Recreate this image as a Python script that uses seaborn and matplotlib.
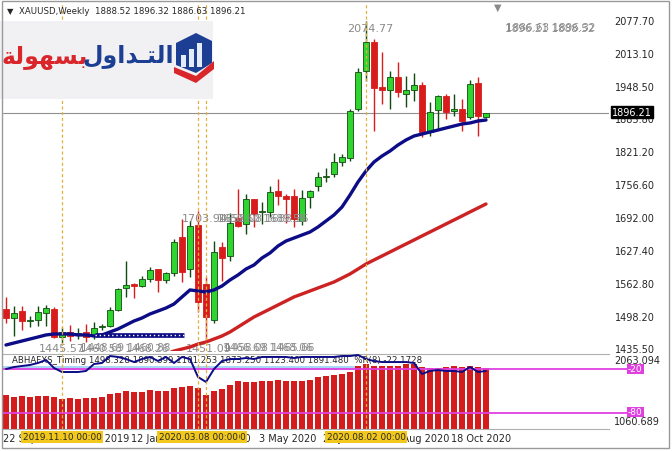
import matplotlib
matplotlib.use("Agg")
import matplotlib.pyplot as plt
import matplotlib.transforms as mtransforms
from matplotlib.patches import Rectangle, Polygon
import seaborn as sns
import numpy as np
import pandas as pd

# XAUUSD weekly candles (first week 22 Sep 2019)
opens = [1512, 1494, 1508, 1488, 1490, 1504, 1512, 1457, 1467, 1462, 1466, 1460, 1476, 1478, 1510,
         1553, 1561, 1557, 1571, 1591, 1568, 1583, 1653, 1590, 1676, 1560, 1490, 1633, 1616, 1690,
         1678, 1728, 1701, 1702, 1743, 1733, 1733, 1685, 1732, 1752, 1770, 1776, 1800, 1808, 1903,
         1977, 2035, 1947, 1940, 1966, 1932, 1940, 1950, 1858, 1901, 1929, 1899, 1903, 1888, 1954, 1888.52]
highs = [1535, 1518, 1518, 1498, 1518, 1520, 1516, 1477, 1480, 1475, 1483, 1486, 1483, 1516, 1553,
         1606, 1563, 1576, 1594, 1591, 1585, 1649, 1689, 1684, 1703.94, 1575, 1645, 1643, 1700, 1747,
         1738, 1728, 1722, 1752, 1766, 1737, 1747, 1745, 1745, 1780, 1788, 1818, 1815, 1904, 1983,
         2074.77, 2040, 2016, 1978, 1996, 1968, 1973, 1956, 1918, 1930, 1933, 1933, 1923, 1961, 1966, 1896.32]
lows = [1484, 1459, 1471, 1477, 1479, 1479, 1455, 1445.57, 1450, 1454, 1448, 1454, 1470, 1476, 1508,
        1535, 1534, 1555, 1565, 1545, 1562, 1577, 1565, 1575, 1506, 1451.09, 1484, 1566, 1606, 1672,
        1659, 1672, 1678, 1692, 1715, 1680, 1672, 1676, 1709, 1743, 1760, 1770, 1792, 1802, 1900,
        1958, 1861, 1913, 1904, 1927, 1907, 1919, 1848, 1851, 1864, 1884, 1890, 1861, 1884, 1850, 1886.63]
closes = [1494, 1504, 1488, 1491, 1506, 1514, 1457, 1467, 1460, 1465, 1458, 1475, 1478, 1510, 1552,
          1559, 1557, 1571, 1588, 1568, 1582, 1643, 1585, 1674, 1525, 1497, 1623, 1612, 1681, 1675,
          1728, 1698, 1702, 1741, 1733, 1727, 1688, 1730, 1743, 1770, 1772, 1800, 1809, 1900, 1975,
          2035, 1944, 1940, 1966, 1937, 1941, 1950, 1858, 1898, 1929, 1898, 1903, 1880, 1952, 1889, 1896.21]

# navy moving average (all weeks) and red moving average (from week 21 on)
ma_fast = [1441.5, 1445.4, 1449.3, 1453.2, 1457.1, 1461.1, 1463.0, 1463.0, 1463.0, 1461.1, 1461.1,
           1459.1, 1461.1, 1466.9, 1472.8, 1480.6, 1488.4, 1494.3, 1502.2, 1508.0, 1513.9, 1521.7,
           1535.5, 1549.2, 1547.2, 1545.2, 1549.2, 1557.0, 1568.7, 1578.5, 1590.2, 1598.1, 1611.8,
           1621.6, 1635.3, 1645.0, 1650.9, 1656.8, 1662.7, 1672.5, 1684.2, 1696.0, 1711.6, 1735.1,
           1760.6, 1782.1, 1799.7, 1811.4, 1821.2, 1833.0, 1842.8, 1850.6, 1854.5, 1858.4, 1862.3,
           1866.3, 1870.2, 1874.1, 1876.1, 1880.0, 1881.9]
ma_slow = [1423.9, 1429.7, 1433.6, 1437.5, 1443.4, 1447.3, 1453.2, 1459.1, 1466.9, 1476.7, 1486.5,
           1496.3, 1504.1, 1511.9, 1519.8, 1527.6, 1535.5, 1541.3, 1547.2, 1553.1, 1558.9, 1564.8,
           1572.6, 1580.5, 1590.2, 1600.0, 1607.9, 1615.7, 1623.5, 1631.4, 1639.2, 1647.0, 1654.9,
           1662.7, 1670.5, 1678.4, 1686.2, 1694.0, 1701.9, 1709.7, 1717.5]
ma_slow_start = 20
support_level = 1461

# ABHAFXS_Timing indicator (%R scale)
timing_bars = [-55.5, -58.2, -56.8, -58.2, -56.8, -56.8, -58.2, -60.9, -59.5, -60.9, -59.5, -59.5,
               -58.2, -54.1, -52.7, -50.0, -51.4, -51.4, -48.6, -50.0, -50.0, -45.9, -44.5, -43.2,
               -45.9, -55.5, -50.0, -47.3, -41.8, -36.4, -37.7, -37.7, -36.4, -36.4, -35.0, -36.4,
               -36.4, -36.4, -35.0, -30.9, -29.5, -28.2, -26.8, -24.1, -15.9, -13.2, -15.9, -15.9,
               -15.9, -15.9, -13.2, -13.2, -17.3, -18.6, -18.6, -17.3, -15.9, -17.3, -15.9, -17.3, -18.6]
timing_line = [-20.0, -17.3, -15.9, -14.5, -11.8, -7.7, -18.6, -24.1, -24.1, -24.1, -22.7, -13.2,
               -11.8, -2.3, -3.6, -6.4, -10.5, -6.4, -3.6, -9.1, -3.6, -11.8, -3.6, -6.4, -30.9,
               -37.7, -20.0, -9.1, -6.4, -6.4, -5.0, -6.4, -3.6, -3.6, -3.6, -3.6, -5.0, -3.6, -3.6,
               -3.6, -3.6, -3.6, -2.3, -2.3, -0.9, -6.4, -9.1, -10.5, -10.5, -10.5, -10.5, -11.8,
               -26.8, -22.7, -21.4, -22.7, -22.7, -24.1, -17.3, -24.1, -22.7]
levels = [-20, -80]

price_ticks = [2077.70, 2013.10, 1948.50, 1885.80, 1821.20, 1756.60, 1692.00, 1627.40, 1562.80,
               1498.20, 1435.50]
tick_dates = ["2019-09-22", "2019-11-17", "2020-01-12", "2020-03-08", "2020-05-03", "2020-06-28",
              "2020-08-23", "2020-10-18"]
marker_dates = ["2019-11-10", "2020-03-08", "2020-03-15", "2020-08-02"]

sns.set_style("white")
plt.rcParams["font.family"] = ["DejaVu Sans"]

W, H = 672, 452
def fx(px):
    return px / W
def fy(py):
    return 1 - py / H

weeks = pd.date_range("2019-09-22", periods=len(closes), freq="7D")
idx = np.arange(len(closes))
def x_of(d):
    return weeks.get_loc(pd.Timestamp(d))

fig = plt.figure(figsize=(W / 100, H / 100), dpi=100)
ax = fig.add_axes([fx(3), fy(352), 606 / W, 347 / H])
ax2 = fig.add_axes([fx(3), fy(430), 606 / W, 75 / H])
xlim = (-0.375, 75.375)

# candles
o, h, l, c = map(np.array, (opens, highs, lows, closes))
up = c >= o
green, red, dkgreen = "#2fd42f", "#d81c1c", "#114a11"
ax.vlines(idx[up], l[up], h[up], color=dkgreen, lw=1, zorder=2)
ax.vlines(idx[~up], l[~up], h[~up], color=red, lw=1, zorder=2)
body_lo = np.minimum(o, c)
body_h = np.maximum(np.abs(c - o), 2.0)
ax.bar(idx[up], body_h[up], bottom=body_lo[up], width=0.68, color=green,
       edgecolor=dkgreen, linewidth=0.6, zorder=3)
ax.bar(idx[~up], body_h[~up], bottom=body_lo[~up], width=0.68, color=red,
       edgecolor=red, linewidth=0.6, zorder=3)

sns.lineplot(x=idx, y=ma_fast, ax=ax, color="#0c0c86", linewidth=2.4, zorder=4)
sns.lineplot(x=idx[ma_slow_start:], y=ma_slow, ax=ax, color="#cc2222", linewidth=2.4, zorder=4)

# support segment
ax.plot([11.1, 22.25], [support_level] * 2, color="#0c0c86", lw=3.4,
        solid_capstyle="butt", zorder=4)
ax.plot([11.1, 22.25], [support_level] * 2, color="white", lw=1.0,
        ls=(0, (1, 2)), zorder=5)

ax.axhline(closes[-1], color="#909090", lw=0.8, zorder=1)

for d in marker_dates:
    for a in (ax, ax2):
        a.axvline(x_of(d), color="#e0b040", lw=0.9, ls=(0, (2.5, 2)), zorder=7)

ax.set_xlim(xlim)
ax.set_ylim(1429.7, 2109.0)
ax.yaxis.tick_right()
ax.set_yticks(price_ticks)
ax.set_yticklabels([f"{v:.2f}" for v in price_ticks])
ax.tick_params(axis="y", length=0, pad=4, labelsize=7)
ax.set_xticks([])
for s in ax.spines.values():
    s.set_visible(False)

# high / low labels
gray = "#8a8a8a"
ax.text(45.5, 2062, f"{highs[45]:.2f}", color=gray, size=8, ha="center", va="center")
ax.text(24.9, 1690, f"{highs[24]:.2f}", color=gray, size=8, ha="center", va="center", zorder=1)
ax.text(7, 1436, f"{lows[7]:.2f}", color=gray, size=8, ha="center", va="center", clip_on=False)
ax.text(25.3, 1436, f"{lows[25]:.2f}", color=gray, size=8, ha="center", va="center", clip_on=False)
for xx, yy, t1, t2 in [(68, 2062, "1896.21 1888.52", "1886.63 1896.32"),
                       (32, 1690, "1650.60 1689.55", "1658.08 1688.36"),
                       (14.75, 1436, "1460.58 1468.26", "1448.69 1460.88"),
                       (32.75, 1437, "1466.69 1468.06", "1458.08 1465.66")]:
    ax.text(xx, yy, t1, color="#8c8c8c", size=7.5, ha="center", va="center", clip_on=False)
    ax.text(xx + 0.15, yy + 1, t2, color="#8c8c8c", size=7.5, ha="center", va="center", clip_on=False)

# indicator panel
ax2.set_xlim(xlim)
ax2.set_ylim(-101.8, 0.45)
ax2.fill_between([-0.375, 43.6], -21.0, -16.2, color="#a7d8f5", lw=0, zorder=1)
ax2.bar(idx, np.array(timing_bars) + 101.8, bottom=-101.8, width=0.76, color="#d41c1c",
        linewidth=0, zorder=2)
for lvl in levels:
    ax2.plot([-0.375, 77.6], [lvl, lvl], color="#e040e0", lw=1.3, clip_on=False, zorder=5)
sns.lineplot(x=idx, y=timing_line, ax=ax2, color="#0c0c86", linewidth=1.4, zorder=6)
ax2.text(0.7, -6.5, "ABHAFXS_Timing 1498.328 1890.399 1101.253 1873.250 1123.400 1891.480  %R(8) -22.1728",
         size=6.2, va="center", zorder=3)
ax2.set_yticks([])
ax2.set_xticks([x_of(d) - 0.375 for d in tick_dates])
ax2.set_xticklabels([f"{weeks[x_of(d)].day} {weeks[x_of(d)].strftime('%b %Y')}" for d in tick_dates],
                    ha="left")
ax2.tick_params(axis="x", length=0, pad=3, labelsize=7)
for name, s in ax2.spines.items():
    s.set_visible(name in ("top", "bottom"))
    s.set_color("#b0b0b0")
    s.set_linewidth(0.8)

# texts outside the plot
fig.text(fx(7), fy(12), "▼", size=6, va="center")
fig.text(fx(19), fy(12), f"XAUUSD,Weekly  {opens[-1]:.2f} {highs[-1]:.2f} {lows[-1]:.2f} {closes[-1]:.2f}",
         size=6.2, va="center")
fig.text(fx(498), fy(8), "▼", size=7, color="#8a8a8a", ha="center", va="center")
fig.text(fx(612), fy(113), f"{closes[-1]:.2f}", color="white", size=7, va="center",
         bbox=dict(boxstyle="square,pad=0.15", fc="black", ec="black"))
fig.text(fx(614), fy(361), "2063.094", size=7, va="center")
fig.text(fx(614), fy(422), "1060.689", size=7, va="center")
for lvl, py in zip(levels, (370, 413)):
    fig.text(fx(628), fy(py), f"{lvl}", color="white", size=6.5, va="center",
             bbox=dict(boxstyle="square,pad=0.1", fc="#e040e0", ec="none"))

blend = mtransforms.blended_transform_factory(ax2.transData, fig.transFigure)
for d in ["2019-11-10", "2020-03-15", "2020-03-08", "2020-08-02"]:
    fig.text(x_of(d), fy(438), weeks[x_of(d)].strftime("%Y.%m.%d 00:00"), transform=blend,
             ha="center", va="center", size=6.4,
             bbox=dict(boxstyle="square,pad=0.2", fc="#f2c81c", ec="none"))

# logo
fig.patches.append(Rectangle((fx(0), fy(100)), 213 / W, 78 / H, transform=fig.transFigure,
                             fc="#f1f1f3", ec="none", zorder=5))
red_word = "\uFE94\uFEDF\uFEEE\uFEEC\uFEB4\uFE91"
blue_word = "\uFEDD\uFEED\uFE8D\uFEAA\u0640\uFE98\uFEDF\uFE8D"
fig.text(fx(45), fy(57), red_word, color="#d9262b", size=17, weight="bold",
         ha="center", va="center", zorder=6)
fig.text(fx(128), fy(56), blue_word, color="#1c3f94", size=17, weight="bold",
         ha="center", va="center", zorder=6)
def poly(pts, color):
    fig.patches.append(Polygon([(fx(a), fy(b)) for a, b in pts], closed=True,
                               transform=fig.transFigure, fc=color, ec="none", zorder=6))
poly([(176, 44), (196, 34), (212, 42), (212, 64), (196, 74), (176, 66)], "#1c3f94")
for bx, top in [(181, 56), (189, 50), (197, 44)]:
    poly([(bx, top), (bx + 5, top), (bx + 5, 68), (bx, 68)], "#e4ecf8")
poly([(174, 68), (196, 77), (214, 62), (214, 70), (196, 84), (174, 74)], "#d9262b")

fig.patches.append(Rectangle((fx(2), fy(449)), 667 / W, 447 / H, transform=fig.transFigure,
                             fill=False, ec="#9a9a9a", lw=1, zorder=8))

fig.savefig("out.png", dpi=100)
